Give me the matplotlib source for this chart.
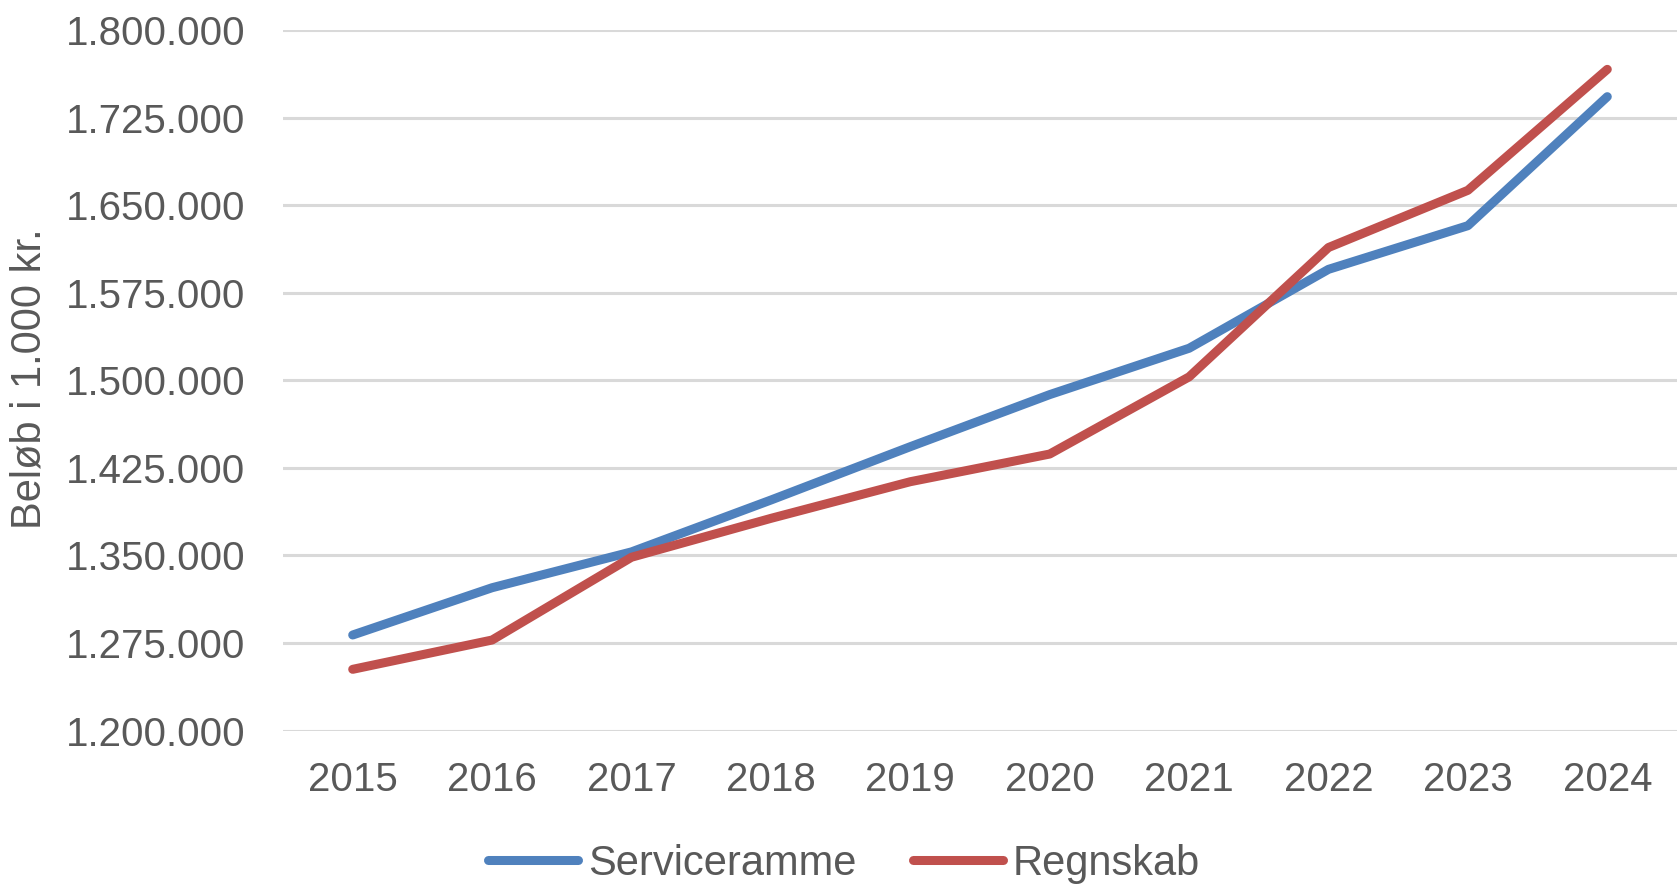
import matplotlib
matplotlib.use("Agg")
import matplotlib.pyplot as plt
from matplotlib import font_manager
from matplotlib.ticker import FuncFormatter

# data (1.000 kr.)
years = ["2015", "2016", "2017", "2018", "2019", "2020", "2021", "2022", "2023", "2024"]
serviceramme = [1281800, 1322300, 1353000, 1397400, 1443100, 1487700, 1527400, 1595000, 1632400, 1742900]
regnskab = [1252400, 1277500, 1348400, 1381700, 1413100, 1436800, 1502900, 1613700, 1662700, 1766300]
y_ticks = [1200000, 1275000, 1350000, 1425000, 1500000, 1575000, 1650000, 1725000, 1800000]

# the original uses a narrow font for the axis title and legend
names = {f.name for f in font_manager.fontManager.ttflist}
if "Liberation Sans Narrow" in names:
    narrow, narrow_size = "Liberation Sans Narrow", 35
else:
    narrow, narrow_size = "Liberation Sans", 30
plt.rcParams['font.family'] = ['Liberation Sans', 'DejaVu Sans']

grey = "#595959"
blue = "#4F81BD"
red = "#C0504D"

fig = plt.figure(figsize=(16.77, 8.86), dpi=100)
ax = fig.add_axes([283 / 1677, 1 - 730.5 / 886, 1 - 283 / 1677, 700.5 / 886])

x = list(range(len(years)))
ax.plot(x, serviceramme, color=blue, lw=6.5, solid_capstyle='round', solid_joinstyle='round', label="Serviceramme", zorder=3)
ax.plot(x, regnskab, color=red, lw=6.5, solid_capstyle='round', solid_joinstyle='round', label="Regnskab", zorder=3)

ax.set_xlim(-0.5, len(years) - 0.5)
ax.set_ylim(1200000, 1800000)
ax.set_xticks(x)
ax.set_xticklabels(years)
ax.set_yticks(y_ticks)
ax.yaxis.set_major_formatter(FuncFormatter(lambda v, p: f"{int(v):,}".replace(",", ".")))
ax.grid(axis='y', color="#D9D9D9", lw=2.2, zorder=0)
ax.set_axisbelow(True)
for s in ax.spines.values():
    s.set_visible(False)
ax.tick_params(axis='both', length=0, colors=grey, labelsize=29)
ax.tick_params(axis='y', pad=27)
ax.tick_params(axis='x', pad=22)

fig.text(30 / 1677, 1 - 379 / 886, "Beløb i 1.000 kr.", rotation=90, ha='center', va='center',
         fontsize=narrow_size, color=grey, family=[narrow, 'DejaVu Sans'])

leg = ax.legend(loc='center', bbox_to_anchor=(844 / 1677, 1 - 864 / 886), bbox_transform=fig.transFigure,
                ncol=2, frameon=False, handlelength=65 / narrow_size, handletextpad=7 / narrow_size,
                columnspacing=41 / narrow_size,
                prop={'family': [narrow, 'DejaVu Sans'], 'size': narrow_size})
for t in leg.get_texts():
    t.set_color(grey)

fig.savefig("out.png", dpi=100)
